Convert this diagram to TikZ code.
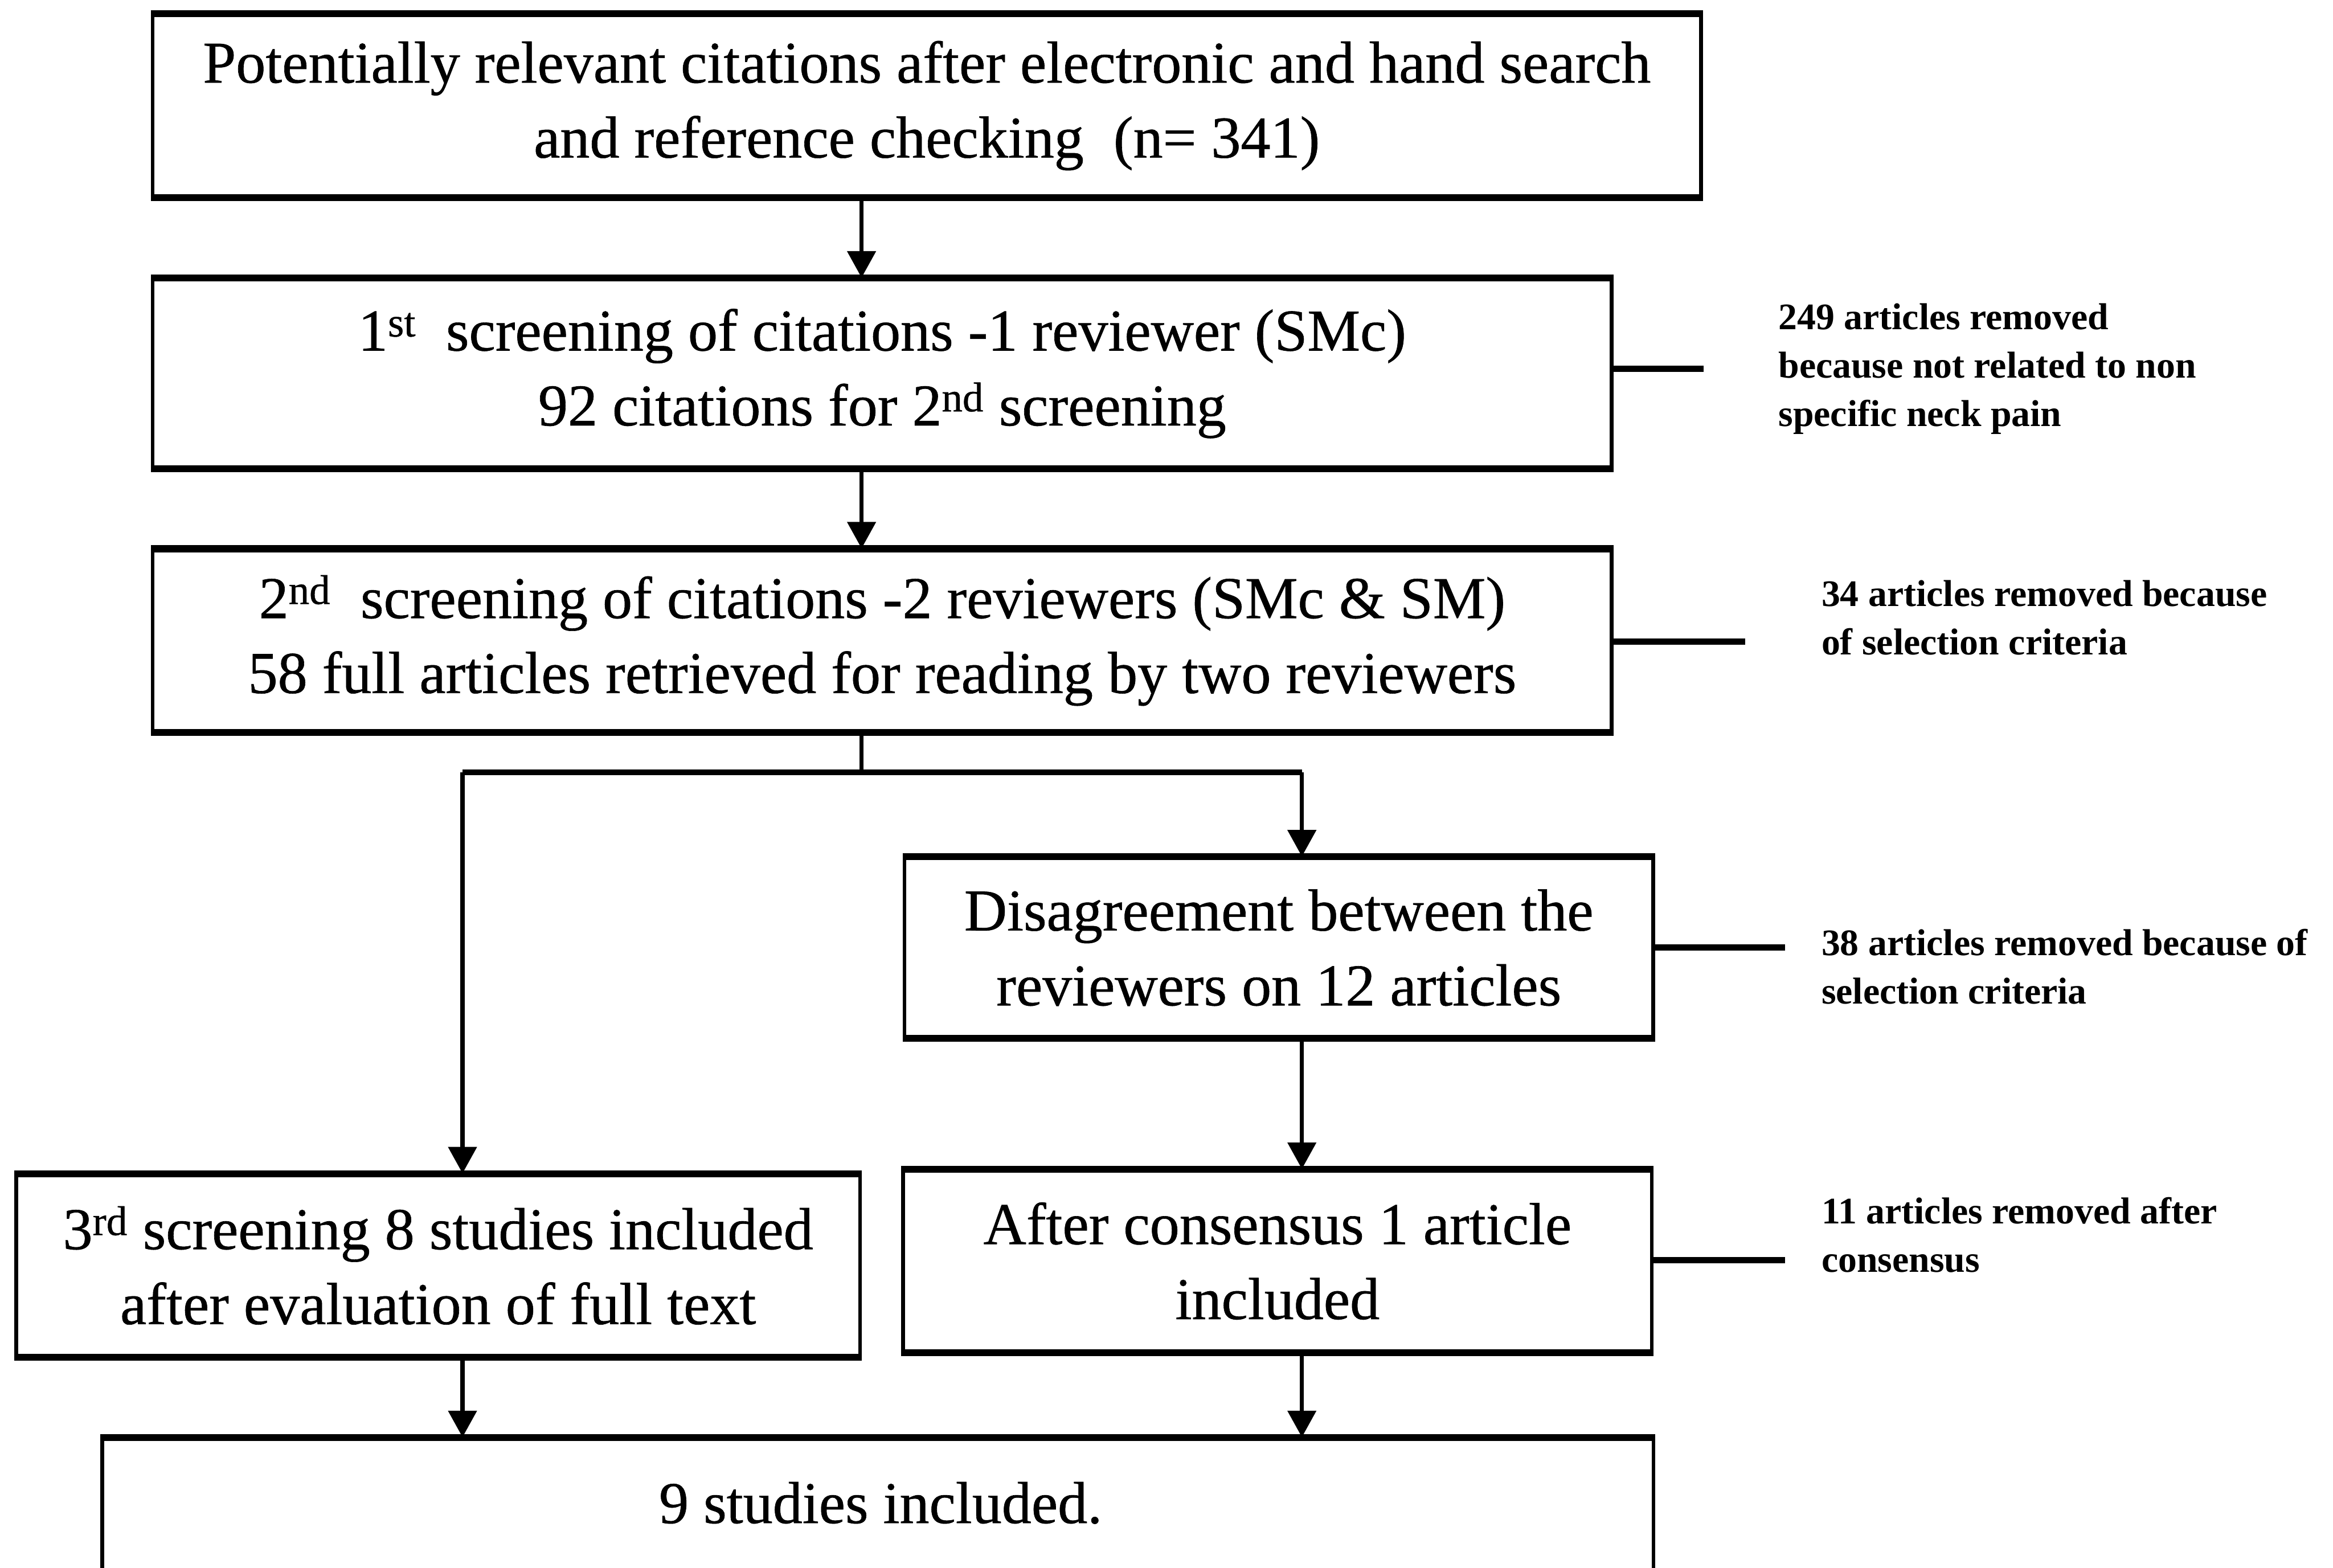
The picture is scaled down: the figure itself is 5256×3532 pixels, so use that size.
\documentclass[tikz,border=0pt]{standalone}
\usepackage{fontspec}
\setmainfont{Liberation Serif}
\newfontfamily\boxfont[FakeBold=0.6]{Liberation Serif}
\usetikzlibrary{arrows.meta}
\begin{document}
\begin{tikzpicture}[x=0.01cm,y=-0.01cm,
  box/.style={draw, line width=2.4pt, rectangle, inner sep=0pt, align=center,
    font=\boxfont\fontsize{38}{48}\selectfont},
  side/.style={align=left, anchor=west, inner sep=0pt,
    font=\fontsize{24}{31}\selectfont\bfseries},
  conn/.style={line width=2.6pt},
  hconn/.style={line width=4pt},
  arr/.style={line width=2.6pt, -{Triangle[length=17pt,width=18pt]}},
]
\clip (0,0) rectangle (5256,3532);
\fill[white] (0,0) rectangle (5256,3532);

% boxes
\node[box, minimum width=34.86cm, minimum height=4.08cm] (b1) at (2088,238)
  {Potentially relevant citations after electronic and hand search\\and reference checking\ \ (n= 341)};
\node[box, minimum width=32.85cm, minimum height=4.23cm] (b2) at (1987.5,841.5)
  {1\textsuperscript{st}\ \ screening of citations -1 reviewer (SMc)\\92 citations for 2\textsuperscript{nd} screening};
\node[box, minimum width=32.85cm, minimum height=4.06cm] (b3) at (1987.5,1443)
  {2\textsuperscript{nd}\ \ screening of citations -2 reviewers (SMc \& SM)\\58 full articles retrieved for reading by two reviewers};
\node[box, minimum width=16.86cm, minimum height=4.02cm] (b4) at (2881,2135)
  {Disagreement between the\\reviewers on 12 articles};
\node[box, minimum width=19.00cm, minimum height=4.06cm] (b5) at (987,2851)
  {3\textsuperscript{rd} screening 8 studies included\\after evaluation of full text};
\node[box, minimum width=16.86cm, minimum height=4.06cm] (b6) at (2878,2841)
  {After consensus 1 article\\included};
\node[box, minimum width=34.93cm, minimum height=6cm, anchor=north] (b7) at (1977.5,3238) {};
\node[inner sep=0pt, font=\boxfont\fontsize{38}{48}\selectfont] (t7) at (1984,3386) {9 studies included.};

% thick horizontal edges (scan look)
\foreach \n in {b1,b2,b3,b4,b5,b6}
  \draw[hconn] (\n.north west) -- (\n.north east) (\n.south west) -- (\n.south east);
\draw[hconn] (b7.north west) -- (b7.north east);

% reference x positions
\coordinate (xm) at (1941,0);
\coordinate (xl) at (1042,0);
\coordinate (xr) at (2933,0);
\coordinate (split) at (0,1740);

% main flow
\draw[arr] (b1.south -| xm) -- (b2.north -| xm);
\draw[arr] (b2.south -| xm) -- (b3.north -| xm);
\draw[conn] (b3.south -| xm) -- (split -| xm);
\draw[hconn] (split -| xl) -- (split -| xr);
\draw[arr] (split -| xl) -- (b5.north -| xl);
\draw[arr] (split -| xr) -- (b4.north -| xr);
\draw[arr] (b4.south -| xr) -- (b6.north -| xr);
\draw[arr] (b5.south -| xl) -- (b7.north -| xl);
\draw[arr] (b6.south -| xr) -- (b7.north -| xr);

% side labels
\node[side] (s2) at (4006,831) {249 articles removed\\because not related to non\\specific neck pain};
\node[side] (s3) at (4103,1391) {34 articles removed because\\of selection criteria};
\node[side] (s4) at (4103,2178) {38 articles removed because of\\selection criteria};
\node[side] (s6) at (4103,2782) {11 articles removed after\\consensus};

\coordinate (e2) at (3838,831);
\coordinate (e3) at (3932,1445);
\coordinate (e4) at (4022,2135);
\coordinate (e6) at (4022,2839);
\draw[hconn] (b2.east |- e2) -- (e2);
\draw[hconn] (b3.east |- e3) -- (e3);
\draw[hconn] (b4.east |- e4) -- (e4);
\draw[hconn] (b6.east |- e6) -- (e6);
\end{tikzpicture}
\end{document}
